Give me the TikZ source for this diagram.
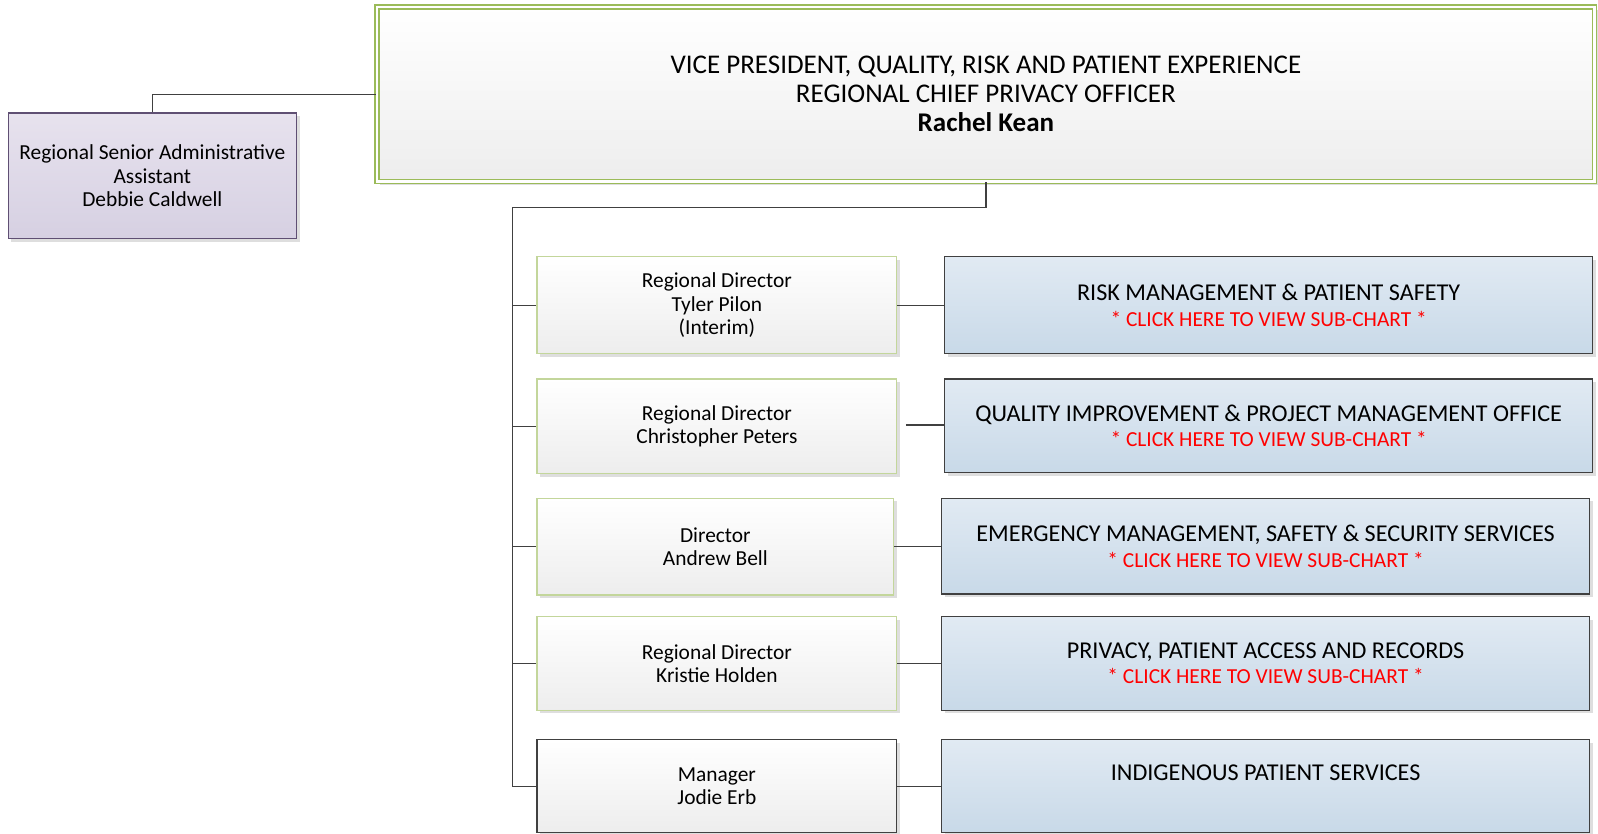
\documentclass[tikz,border=0pt]{standalone}
\usepackage{fontspec}
\setmainfont{Carlito}
\usetikzlibrary{shadows}
\definecolor{lnk}{HTML}{404040}
\definecolor{vpgreen}{HTML}{9BBB59}
\definecolor{dgreen}{HTML}{C3D69B}
\definecolor{purp}{HTML}{5F4F73}
\definecolor{redtxt}{HTML}{FF0000}
\definecolor{admtop}{HTML}{E7E2EE}
\definecolor{admbot}{HTML}{D6D0E2}
\definecolor{deptop}{HTML}{E1EAF3}
\definecolor{depbot}{HTML}{C8D9E8}
\tikzset{
  shad/.style={drop shadow={shadow xshift=3pt, shadow yshift=-3pt, fill=black!13, opacity=1}},
  vpbox/.style={shad, draw=vpgreen, line width=1.3pt, double=white, double distance=2.6pt,
     top color=white, bottom color=black!7, align=center, inner sep=0pt,
     font=\fontsize{26.5}{28.5}\selectfont},
  admbox/.style={shad, draw=purp, line width=1.2pt, top color=admtop, bottom color=admbot,
     align=center, inner sep=0pt, font=\fontsize{21}{23}\selectfont},
  dirbox/.style={shad, draw=dgreen, line width=1.2pt, top color=white, bottom color=black!7,
     align=center, inner sep=0pt, font=\fontsize{21}{23}\selectfont},
  mgrbox/.style={shad, draw=lnk, line width=1.2pt, top color=white, bottom color=black!7,
     align=center, inner sep=0pt, font=\fontsize{21}{23}\selectfont},
  deptbox/.style={shad, draw=lnk, line width=1.2pt, top color=deptop, bottom color=depbot,
     align=center, inner sep=0pt, font=\fontsize{23.7}{25}\selectfont},
  conn/.style={draw=lnk, line width=1.2pt}
}
\newcommand{\clickline}{\\{\color{redtxt}\fontsize{21}{25}\selectfont * CLICK HERE TO VIEW SUB-CHART *}}
\begin{document}
\begin{tikzpicture}[x=1pt,y=-1pt]
% VP
\node[vpbox, minimum width=1195, minimum height=171.5] (vp) at (967.5,92.5)
  {VICE PRESIDENT, QUALITY, RISK AND PATIENT EXPERIENCE\\REGIONAL CHIEF PRIVACY OFFICER\\\textbf{Rachel Kean}};
% admin
\node[admbox, minimum width=283, minimum height=123] (adm) at (149.5,172.5)
  {Regional Senior Administrative\\Assistant\\Debbie Caldwell};
% directors
\node[dirbox, minimum width=353, minimum height=95] (d1) at (703.5,299.5) {Regional Director\\Tyler Pilon\\(Interim)};
\node[dirbox, minimum width=353, minimum height=93] (d2) at (703.5,418.5) {Regional Director\\Christopher Peters};
\node[dirbox, minimum width=350, minimum height=95] (d3) at (702,536.5) {Director\\Andrew Bell};
\node[dirbox, minimum width=353, minimum height=92] (d4) at (703.5,651) {Regional Director\\Kristie Holden};
\node[mgrbox, minimum width=353, minimum height=91] (d5) at (703.5,771.5) {Manager\\Jodie Erb};
% departments
\node[deptbox, minimum width=636, minimum height=95] (p1) at (1245,299.5) {RISK MANAGEMENT \& PATIENT SAFETY\clickline};
\node[deptbox, minimum width=636, minimum height=92] (p2) at (1245,418) {QUALITY IMPROVEMENT \& PROJECT MANAGEMENT OFFICE\clickline};
\node[deptbox, minimum width=636, minimum height=94] (p3) at (1242,536) {EMERGENCY MANAGEMENT, SAFETY \& SECURITY SERVICES\clickline};
\node[deptbox, minimum width=636, minimum height=92] (p4) at (1242,651) {PRIVACY, PATIENT ACCESS AND RECORDS\clickline};
\node[deptbox, minimum width=636, minimum height=91] (p5) at (1242,771.5) {INDIGENOUS PATIENT SERVICES\\[-6pt]\strut};
% connectors
\coordinate (bus) at (503,204);
\draw[conn] (adm.north) |- (vp.west);
\draw[conn] (vp.south) |- (bus) -- (bus |- d5.west) -- (d5.west);
\foreach \n in {d1,d2,d3,d4} \draw[conn] (bus |- \n.west) -- (\n.west);
\draw[conn] (d1.east) -- (p1.west);
\coordinate (g2) at (889,417);
\draw[conn] (g2) -- (g2 -| p2.west);
\draw[conn] (d3.east) -- (d3.east -| p3.west);
\draw[conn] (d4.east) -- (p4.west);
\draw[conn] (d5.east) -- (p5.west);
\pgfresetboundingbox
\useasboundingbox (0,0) rectangle (1568.2,818.4);
\end{tikzpicture}
\end{document}
